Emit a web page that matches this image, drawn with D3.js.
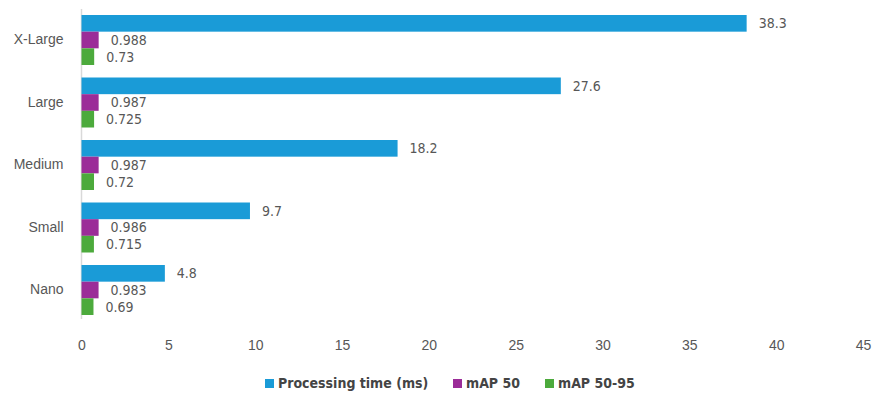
<!DOCTYPE html>
<html lang="en">
<head>
    <meta charset="UTF-8">
    <title>Model sizes</title>
    <style>
        body {
            margin: 0;
            background: #fff;
            font-family: 'Liberation Sans Narrow', 'DejaVu Sans Condensed', 'Roboto', sans-serif;
        }
        #chart text {
            fill: #575757;
        }
    </style>
</head>
<body>
    <div id="chart"></div>
    <script src="https://d3js.org/d3.v7.min.js"></script>
    <script>
        // data
        var models = ["X-Large", "Large", "Medium", "Small", "Nano"];
        var seriesNames = ["Processing time (ms)", "mAP 50", "mAP 50-95"];
        var processingTime = [38.3, 27.6, 18.2, 9.7, 4.8];
        var map50 = [0.988, 0.987, 0.987, 0.986, 0.983];
        var map5095 = [0.73, 0.725, 0.72, 0.715, 0.69];
        var xTicks = [0, 5, 10, 15, 20, 25, 30, 35, 40, 45];

        var colors = ["#1a9bd7", "#9b2c98", "#4caa3c"];
        var seriesValues = [processingTime, map50, map5095];

        var width = 873, height = 394;

        var svg = d3.select("#chart")
            .append("svg")
            .attr("width", width)
            .attr("height", height);

        var x = d3.scaleLinear()
            .domain([0, 45])
            .range([81.5, 863]);

        var y = d3.scaleBand()
            .domain(models)
            .range([8.75, 321.25])
            .paddingInner(0.2)
            .paddingOuter(0.1);

        var ySub = d3.scaleBand()
            .domain(d3.range(seriesNames.length))
            .range([0, y.bandwidth()]);

        // flat rows for drawing
        var rows = [];
        models.forEach(function(m, i) {
            seriesValues.forEach(function(vals, s) {
                rows.push({model: m, s: s, value: vals[i]});
            });
        });

        // x axis (labels only)
        var xAxis = d3.axisBottom(x)
            .tickValues(xTicks)
            .tickSize(0)
            .tickPadding(0);

        var gx = svg.append("g")
            .attr("transform", "translate(0,340)")
            .call(xAxis);
        gx.select(".domain").remove();
        gx.selectAll("text")
            .style("font-family", "inherit")
            .style("font-size", "14px");

        // vertical baseline
        svg.append("line")
            .attr("x1", x(0))
            .attr("x2", x(0))
            .attr("y1", 9)
            .attr("y2", 319)
            .attr("stroke", "#d9d9d9")
            .attr("stroke-width", 1.5);

        // category labels
        var yAxis = d3.axisLeft(y)
            .tickSize(0)
            .tickPadding(18);
        var gy = svg.append("g")
            .attr("transform", "translate(" + x(0) + ",0)")
            .call(yAxis);
        gy.select(".domain").remove();
        gy.selectAll("text")
            .style("font-family", "inherit")
            .style("font-size", "14px");

        // bars
        svg.selectAll(".bar")
            .data(rows)
            .enter()
            .append("rect")
            .attr("class", "bar")
            .attr("x", x(0))
            .attr("y", d => y(d.model) + ySub(d.s))
            .attr("width", d => x(d.value) - x(0))
            .attr("height", ySub.bandwidth())
            .attr("fill", d => colors[d.s]);

        // value labels
        svg.selectAll(".val")
            .data(rows)
            .enter()
            .append("text")
            .attr("class", "val")
            .attr("x", d => x(d.value) + 12)
            .attr("y", d => y(d.model) + ySub(d.s) + ySub.bandwidth() / 2)
            .attr("dy", "0.35em")
            .style("font-size", "14px")
            .text(d => d.value);

        // legend
        var legendX = [265, 453, 545];
        var legend = svg.selectAll(".legend")
            .data(seriesNames)
            .enter()
            .append("g")
            .attr("class", "legend")
            .attr("transform", (d, i) => "translate(" + legendX[i] + ",383)");

        legend.append("rect")
            .attr("x", 0)
            .attr("y", -4)
            .attr("width", 9)
            .attr("height", 9)
            .attr("fill", (d, i) => colors[i]);

        legend.append("text")
            .attr("x", 13)
            .attr("y", 0)
            .attr("dy", "0.35em")
            .style("font-size", "14px")
            .style("font-weight", "bold")
            .style("fill", "#444")
            .text(d => d);
    </script>
</body>
</html>
